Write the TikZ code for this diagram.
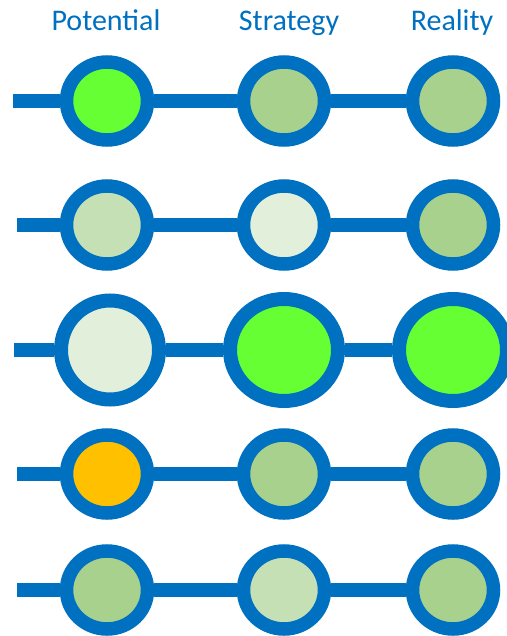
\documentclass[tikz,border=0pt]{standalone}
\usepackage{fontspec}
\setmainfont{Carlito}
\usetikzlibrary{shapes.geometric}
\definecolor{ringblue}{HTML}{0070C0}
\definecolor{brightgreen}{HTML}{66FF33}
\definecolor{midgreen}{HTML}{A9D18E}
\definecolor{palegreen}{HTML}{C5E0B4}
\definecolor{palestgreen}{HTML}{E2EFDA}
\definecolor{amber}{HTML}{FFC000}

\begin{document}
\begin{tikzpicture}[x=1pt, y=-1pt,
    stage/.style={ellipse, draw=ringblue, line width=13.5pt, inner sep=0pt, minimum width=81pt, minimum height=78pt},
    bigstage/.style={stage, line width=14pt, minimum width=108pt, minimum height=102pt},
    link/.style={draw=ringblue, line width=14pt},
    head/.style={text=ringblue, anchor=base, font=\fontsize{30}{36}\selectfont}]
    \useasboundingbox (0,0) rectangle (506,636);

    % column heads
    \node[head] (potential) at (106,31) {Potential};
    \node[head] (strategy) at (289,31) {Strategy};
    \node[head] (reality) at (452,31) {Reality};

    % row 1
    \coordinate (s1) at (13,101);
    \node[stage, fill=brightgreen] (p1) at (107,101) {};
    \node[stage, fill=midgreen] (m1) at (284,101) {};
    \node[stage, fill=midgreen] (r1) at (453,101) {};
    \draw[link] (s1) -- (p1) (p1) -- (m1) (m1) -- (r1);

    % row 2
    \coordinate (s2) at (17,225);
    \node[stage, fill=palegreen] (p2) at (107,225) {};
    \node[stage, fill=palestgreen] (m2) at (284,225) {};
    \node[stage, fill=midgreen] (r2) at (453,225) {};
    \draw[link] (s2) -- (p2) (p2) -- (m2) (m2) -- (r2);

    % row 3
    \coordinate (s3) at (14,350);
    \node[stage, line width=14pt, minimum width=98pt, minimum height=99pt, fill=palestgreen] (p3) at (110,350) {};
    \node[bigstage, fill=brightgreen] (m3) at (284,350) {};
    \node[bigstage, fill=brightgreen] (r3) at (453,350) {};
    \draw[link] (s3) -- (p3) (p3) -- (m3) (m3) -- (r3);

    % row 4
    \coordinate (s4) at (17,474);
    \node[stage, fill=amber] (p4) at (107,474) {};
    \node[stage, fill=midgreen] (m4) at (284,474) {};
    \node[stage, fill=midgreen] (r4) at (453,474) {};
    \draw[link] (s4) -- (p4) (p4) -- (m4) (m4) -- (r4);

    % row 5
    \coordinate (s5) at (17,590);
    \node[stage, fill=midgreen] (p5) at (107,590) {};
    \node[stage, fill=palegreen] (m5) at (284,590) {};
    \node[stage, fill=midgreen] (r5) at (453,590) {};
    \draw[link] (s5) -- (p5) (p5) -- (m5) (m5) -- (r5);
\end{tikzpicture}
\end{document}
